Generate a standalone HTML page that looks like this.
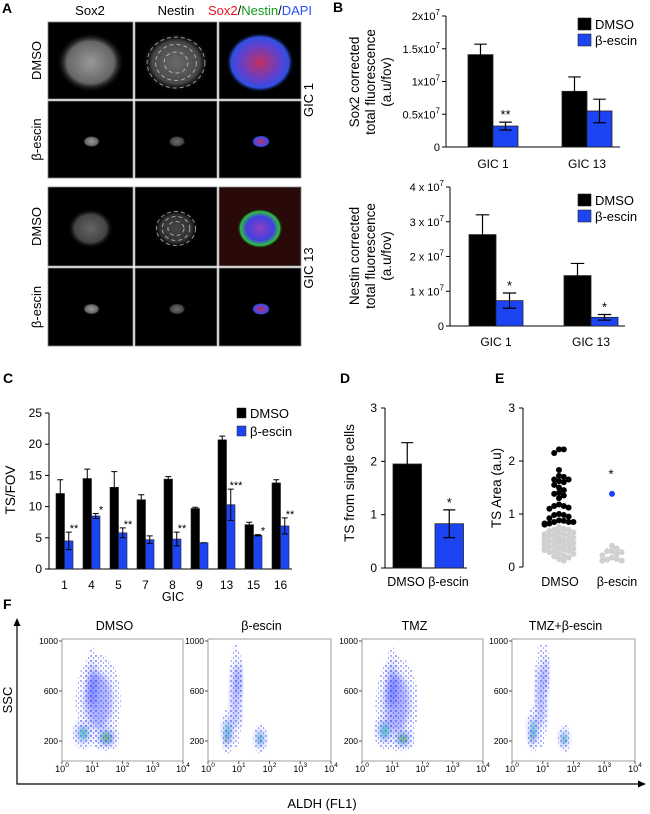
<!DOCTYPE html>
<html><head><meta charset="utf-8"><style>
html,body{margin:0;padding:0;background:#fff;}
svg{display:block;font-family:"Liberation Sans",Arial,sans-serif;}
</style></head><body>
<svg id="fig" width="650" height="814" viewBox="0 0 650 814" xmlns="http://www.w3.org/2000/svg">
<defs>
<filter id="blur2" x="-50%" y="-50%" width="200%" height="200%"><feGaussianBlur stdDeviation="2"/></filter>
<filter id="blur4" x="-50%" y="-50%" width="200%" height="200%"><feGaussianBlur stdDeviation="3.5"/></filter>
<pattern id="dots" width="5" height="5" patternUnits="userSpaceOnUse"><circle cx="1" cy="1" r="0.7" fill="#2030ff"/><circle cx="3.5" cy="3" r="0.6" fill="#4050ff"/></pattern>
<radialGradient id="gGray"><stop offset="0" stop-color="#999"/><stop offset="0.7" stop-color="#666"/><stop offset="1" stop-color="#000" stop-opacity="0"/></radialGradient>
<radialGradient id="gGrayDim"><stop offset="0" stop-color="#666"/><stop offset="0.7" stop-color="#444"/><stop offset="1" stop-color="#000" stop-opacity="0"/></radialGradient>
<radialGradient id="gMerge"><stop offset="0" stop-color="#c03060"/><stop offset="0.6" stop-color="#6040d0"/><stop offset="0.85" stop-color="#3050e0"/><stop offset="1" stop-color="#000" stop-opacity="0"/></radialGradient>
<radialGradient id="gMerge2"><stop offset="0" stop-color="#9040c0"/><stop offset="0.6" stop-color="#4040e0"/><stop offset="0.85" stop-color="#30c040"/><stop offset="1" stop-color="#000" stop-opacity="0"/></radialGradient>
</defs>
</svg>
<script>
// ---------- DATA ----------
const bTopCats = ['GIC 1', 'GIC 13'];
const bTopDmso = [1.41, 0.85];
const bTopDmsoErr = [0.16, 0.22];
const bTopEsc = [0.32, 0.55];
const bTopEscErr = [0.06, 0.18];
const bTopStars = ['**', ''];
const bTopTicks = [0, 0.5, 1, 1.5, 2];
const bTopTickLabels = ['0', '0.5x10', '1x10', '1.5x10', '2x10'];

const bBotCats = ['GIC 1', 'GIC 13'];
const bBotDmso = [2.63, 1.45];
const bBotDmsoErr = [0.57, 0.35];
const bBotEsc = [0.73, 0.25];
const bBotEscErr = [0.22, 0.08];
const bBotStars = ['*', '*'];
const bBotTicks = [0, 1, 2, 3, 4];
const bBotTickLabels = ['0', '1 x 10', '2 x 10', '3 x 10', '4 x 10'];

const cCats = ['1', '4', '5', '7', '8', '9', '13', '15', '16'];
const cDmso = [12.1, 14.5, 13.1, 11.1, 14.4, 9.7, 20.7, 7.1, 13.8];
const cDmsoErr = [2.2, 1.5, 2.5, 0.8, 0.4, 0.2, 0.6, 0.4, 0.5];
const cEsc = [4.5, 8.5, 5.8, 4.7, 4.8, 4.2, 10.3, 5.4, 6.9];
const cEscErr = [1.4, 0.4, 0.8, 0.6, 1.1, 0.0, 2.5, 0.1, 1.3];
const cStars = ['**', '*', '**', '', '**', '', '***', '*', '**'];
const cTicks = [0, 5, 10, 15, 20, 25];

const dCats = ['DMSO', 'β-escin'];
const dVals = [1.95, 0.83];
const dErr = [0.40, 0.26];
const dTicks = [0, 1, 2, 3];

const eTicks = [0, 1, 2, 3];
const eDmsoHigh = [2.22, 2.15, 2.22, 1.83, 1.65, 1.70, 1.65, 1.72, 1.62, 1.55, 1.60, 1.50, 1.45, 1.35, 1.38, 1.40, 1.30, 1.15, 1.18, 1.12, 1.10, 1.15, 1.00, 0.95, 0.98, 0.92, 0.98, 0.88, 0.85, 0.87, 0.85, 0.82, 0.85, 0.80, 0.82];
const eDmsoLow = [0.75, 0.72, 0.70, 0.70, 0.68, 0.65, 0.65, 0.62, 0.60, 0.60, 0.58, 0.55, 0.55, 0.52, 0.50, 0.50, 0.48, 0.46, 0.45, 0.45, 0.43, 0.42, 0.40, 0.40, 0.38, 0.36, 0.35, 0.33, 0.32, 0.30, 0.30, 0.28, 0.26, 0.25, 0.22, 0.20, 0.18, 0.15, 0.12, 0.55, 0.62, 0.48, 0.35];
const eEscLow = [0.40, 0.35, 0.30, 0.30, 0.28, 0.25, 0.22, 0.18, 0.14, 0.12, 0.12, 0.15];
const eEscHigh = [1.38];

// flow clusters: [log10 ALDH, SSC, rx (decades), ry (SSC), level]
const fTitles = ['DMSO', 'β-escin', 'TMZ', 'TMZ+β-escin'];
const fClusters = [
  [[1.2, 520, 0.75, 380, 1], [1.0, 650, 0.22, 300, 1], [0.7, 260, 0.35, 130, 2], [1.45, 230, 0.45, 110, 3], [1.5, 215, 0.2, 55, 4]],
  [[0.9, 550, 0.22, 420, 1], [0.65, 280, 0.22, 180, 2], [1.0, 700, 0.12, 220, 1], [0.6, 210, 0.12, 80, 4], [1.7, 220, 0.22, 120, 2], [1.7, 200, 0.08, 40, 3]],
  [[1.15, 500, 0.7, 380, 1], [1.0, 650, 0.25, 300, 1], [0.75, 280, 0.35, 150, 2], [1.35, 220, 0.4, 100, 3], [1.35, 210, 0.18, 45, 4]],
  [[0.95, 560, 0.22, 420, 1], [0.7, 290, 0.22, 180, 2], [1.1, 750, 0.12, 220, 1], [0.65, 220, 0.12, 80, 4], [1.7, 220, 0.2, 110, 2], [1.7, 200, 0.08, 40, 3]]
];
const fYTicks = [200, 600, 1000];
const fXTicks = [0, 1, 2, 3, 4];

// ---------- HELPERS ----------
const NS = 'http://www.w3.org/2000/svg';
const svg = document.getElementById('fig');
function mk(tag, attrs, parent) {
  const e = document.createElementNS(NS, tag);
  for (const k in attrs) e.setAttribute(k, attrs[k]);
  (parent || svg).appendChild(e);
  return e;
}
function txt(s, x, y, size, anchor, parent, extra) {
  const t = mk('text', Object.assign({x: x, y: y, 'font-size': size, 'text-anchor': anchor || 'middle', fill: '#000'}, extra || {}), parent);
  t.textContent = s;
  return t;
}
function sup(t, base, exp, expSize) {
  t.textContent = '';
  const a = mk('tspan', {}, t); a.textContent = base;
  const b = mk('tspan', {'font-size': expSize, dy: -5}, t); b.textContent = exp;
}
const BLUE = '#1d44f2';

// ---------- PANEL A ----------
const gA = mk('g', {});


let t = txt('A', 2, 13, 14, 'start', gA, {'font-weight': 'bold'});


const colX = [[48, 133], [135, 217], [219, 301]];
const rowY = [[22, 99], [101, 178], [187, 266], [268, 346]];
t = txt('Sox2', 90, 15, 13, 'middle', gA);


t = txt('Nestin', 176, 15, 13, 'middle', gA);


t = mk('text', {x: 260, y: 15, 'font-size': 13, 'text-anchor': 'middle'}, gA);


[['Sox2', '#e8141c'], ['/', '#000'], ['Nestin', '#139a1c'], ['/', '#000'], ['DAPI', '#2b4cff']].forEach(p => { const s = mk('tspan', {fill: p[1]}, t); s.textContent = p[0]; });
const rowLab = ['DMSO', 'β-escin', 'DMSO', 'β-escin'];
rowY.forEach((r, ri) => {
  const cy = (r[0] + r[1]) / 2;
  const rl = txt(rowLab[ri], 41, cy, 13, 'middle', gA, {transform: 'rotate(-90 41 ' + cy + ')'});
  
  
  colX.forEach((c, ci) => {
    const w = c[1] - c[0], h = r[1] - r[0];
    const bg = (ri === 2 && ci === 2) ? '#2a0909' : '#000';
    const rect = mk('rect', {x: c[0], y: r[0], width: w, height: h, fill: bg, stroke: '#888', 'stroke-width': 0.8}, gA);
    
    
    const cx = c[0] + w / 2, cyy = r[0] + h / 2;
    let rx, ry, fill;
    if (ri === 0) { rx = 34; ry = 30; } else if (ri === 2) { rx = 23; ry = 20; } else { rx = 9; ry = 6; }
    if (ci === 2) fill = ri === 2 ? 'url(#gMerge2)' : 'url(#gMerge)';
    else fill = ri === 2 ? 'url(#gGrayDim)' : 'url(#gGray)';
    const b = mk('ellipse', {cx: cx + (ri % 2 ? 1 : 0), cy: cyy + 2, rx: rx, ry: ry, fill: fill, opacity: ci === 1 ? 0.7 : 1}, gA);
    
    
    if (ci === 1 && ri % 2 === 0) {
      for (let k = 0; k < 3; k++) {
        const ring = mk('ellipse', {cx: cx, cy: cyy + 2, rx: rx * (0.35 + k * 0.25), ry: ry * (0.35 + k * 0.25), fill: 'none', stroke: '#eee', 'stroke-width': 1, 'stroke-dasharray': '4 3', opacity: 0.6}, gA);
        
        
      }
    }
  });
});
t = txt('GIC 1', 313, 100, 13, 'middle', gA, {transform: 'rotate(-90 313 100)'});


t = txt('GIC 13', 313, 268, 13, 'middle', gA, {transform: 'rotate(-90 313 268)'});



// ---------- generic bar chart for B ----------
function barChart(o) {
  const g = mk('g', {});
  
  
  const y = v => o.y0 - (v / o.vmax) * (o.y0 - o.y1);
  let l = mk('line', {x1: o.ax, y1: o.y1, x2: o.ax, y2: o.y0, stroke: '#000', 'stroke-width': 1}, g);
  
  
  l = mk('line', {x1: o.ax, y1: o.y0, x2: o.axEnd, y2: o.y0, stroke: '#000', 'stroke-width': 1}, g);
  
  
  o.ticks.forEach((tv, i) => {
    const tk = mk('line', {x1: o.ax - 4, y1: y(tv), x2: o.ax, y2: y(tv), stroke: '#000'}, g);
    
    
    const tl = txt(o.tickLabels[i], o.ax - 6, y(tv) + 4, 11, 'end', g);
    
    
    if (i > 0) sup(tl, o.tickLabels[i], '7', 8);
  });
  o.cats.forEach((c, i) => {
    const cx = o.centers[i];
    const vals = [o.dmso[i], o.esc[i]], errs = [o.dmsoErr[i], o.escErr[i]];
    [0, 1].forEach(s => {
      const x0 = s === 0 ? cx - o.bw : cx;
      const r = mk('rect', {x: x0, y: y(vals[s]), width: o.bw, height: o.y0 - y(vals[s]), fill: s ? BLUE : '#000', stroke: '#222', 'stroke-width': 0.8}, g);
      
      
      const ex = x0 + o.bw / 2;
      const e = mk('path', {d: 'M' + ex + ' ' + y(vals[s] - errs[s]) + 'V' + y(vals[s] + errs[s]) + 'M' + (ex - o.bw / 4) + ' ' + y(vals[s] + errs[s]) + 'h' + (o.bw / 2) + 'M' + (ex - o.bw / 4) + ' ' + y(vals[s] - errs[s]) + 'h' + (o.bw / 2), stroke: '#000', 'stroke-width': 1.2, fill: 'none'}, g);
      
      
    });
    if (o.stars[i]) {
      const st = txt(o.stars[i], cx + o.bw / 2, y(o.esc[i] + o.escErr[i]) - 3, 13, 'middle', g);
      
      
    }
    const cl = txt(c, cx, o.catY, 12, 'middle', g);
    
    
  });
  o.title.forEach((line, i) => {
    const tx = o.titleX[i];
    const tt = txt(line, tx, o.titleY, 13.5, 'middle', g, {transform: 'rotate(-90 ' + tx + ' ' + o.titleY + ')'});
    
    
  });
  [['DMSO', '#000'], ['β-escin', BLUE]].forEach((p, i) => {
    const ly = o.legY + i * 16;
    const sq = mk('rect', {x: o.legX, y: ly - 6, width: 13, height: 12, fill: p[1], stroke: '#222', 'stroke-width': 0.6}, g);
    
    
    const lt = txt(p[0], o.legX + 17, ly + 5, 13, 'start', g);
    
    
  });
  return g;
}
t = txt('B', 333, 12, 14, 'start', svg, {'font-weight': 'bold'});


barChart({name: 'sox2-bar-chart', ax: 446, axEnd: 620, y0: 147, y1: 16, vmax: 2, ticks: bTopTicks, tickLabels: bTopTickLabels,
  cats: bTopCats, centers: [493, 587], bw: 25, dmso: bTopDmso, dmsoErr: bTopDmsoErr, esc: bTopEsc, escErr: bTopEscErr, stars: bTopStars,
  catY: 168, title: ['Sox2 corrected', 'total fluorescence', '(a.u/fov)'], titleX: [359, 375, 391], titleY: 82, legX: 578, legY: 24});
barChart({name: 'nestin-bar-chart', ax: 450, axEnd: 625, y0: 326, y1: 187, vmax: 4, ticks: bBotTicks, tickLabels: bBotTickLabels,
  cats: bBotCats, centers: [496, 591], bw: 27, dmso: bBotDmso, dmsoErr: bBotDmsoErr, esc: bBotEsc, escErr: bBotEscErr, stars: bBotStars,
  catY: 346, title: ['Nestin corrected', 'total fluorescence', '(a.u/fov)'], titleX: [359, 375, 391], titleY: 256, legX: 578, legY: 200});

// ---------- PANEL C ----------
(function () {
  const g = mk('g', {});
  
  
  let lb = txt('C', 3, 383, 14, 'start', g, {'font-weight': 'bold'});
  
  
  const ax = 49, y0 = 569, y1 = 413, vmax = 25;
  const y = v => y0 - v / vmax * (y0 - y1);
  const xc = i => ax + 2 + (i + 0.5) * 27;
  const bw = 8.5;
  let l = mk('path', {d: 'M' + ax + ' ' + y1 + 'V' + y0 + 'H292', stroke: '#000', fill: 'none'}, g);
  
  
  cTicks.forEach(tv => {
    const tk = mk('line', {x1: ax - 4, y1: y(tv), x2: ax, y2: y(tv), stroke: '#000'}, g);
    
    
    const tl = txt(String(tv), ax - 7, y(tv) + 4, 12, 'end', g);
    
    
  });
  cCats.forEach((c, i) => {
    const cx = xc(i);
    [[cDmso[i], cDmsoErr[i], '#000', cx - bw], [cEsc[i], cEscErr[i], BLUE, cx]].forEach((s, si) => {
      const r = mk('rect', {x: s[3], y: y(s[0]), width: bw, height: y0 - y(s[0]), fill: s[2], stroke: '#222', 'stroke-width': 0.6}, g);
      
      
      const ex = s[3] + bw / 2;
      const e = mk('path', {d: 'M' + ex + ' ' + y(s[0] - s[1]) + 'V' + y(s[0] + s[1]) + 'M' + (ex - 3) + ' ' + y(s[0] + s[1]) + 'h6M' + (ex - 3) + ' ' + y(s[0] - s[1]) + 'h6', stroke: '#000', fill: 'none', 'stroke-width': 1}, g);
      
      
    });
    if (cStars[i]) {
      const st = txt(cStars[i], cx + bw + 1, y(cEsc[i] + cEscErr[i]) + 0, 11, 'middle', g);
      
      
    }
    const cl = txt(c, cx, 589, 12, 'middle', g);
    
    
  });
  let tt = txt('GIC', 173, 601, 12.5, 'middle', g);
  
  
  tt = txt('TS/FOV', 15, 490, 13.5, 'middle', g, {transform: 'rotate(-90 15 490)'});
  
  
  [['DMSO', '#000'], ['β-escin', BLUE]].forEach((p, i) => {
    const ly = 413 + i * 18;
    const sq = mk('rect', {x: 237, y: ly - 5, width: 9, height: 10, fill: p[1], stroke: '#222', 'stroke-width': 0.5}, g);
    
    
    const lt = txt(p[0], 250, ly + 5, 13, 'start', g);
    
    
  });
})();

// ---------- PANEL D ----------
(function () {
  const g = mk('g', {});
  
  
  let lb = txt('D', 340, 383, 14, 'start', g, {'font-weight': 'bold'});
  
  
  const ax = 385, y0 = 568, y1 = 408, vmax = 3;
  const y = v => y0 - v / vmax * (y0 - y1);
  let l = mk('path', {d: 'M' + ax + ' ' + y1 + 'V' + y0 + 'H467', stroke: '#000', fill: 'none'}, g);
  
  
  dTicks.forEach(tv => {
    const tk = mk('line', {x1: ax - 4, y1: y(tv), x2: ax, y2: y(tv), stroke: '#000'}, g);
    
    
    const tl = txt(String(tv), ax - 8, y(tv) + 4, 12, 'end', g);
    
    
  });
  const bx = [393, 435], bw = 28.5;
  dCats.forEach((c, i) => {
    const r = mk('rect', {x: bx[i], y: y(dVals[i]), width: bw, height: y0 - y(dVals[i]), fill: i ? BLUE : '#000', stroke: '#222', 'stroke-width': 0.8}, g);
    
    
    const ex = bx[i] + bw / 2;
    const e = mk('path', {d: 'M' + ex + ' ' + y(dVals[i] - dErr[i]) + 'V' + y(dVals[i] + dErr[i]) + 'M' + (ex - 6) + ' ' + y(dVals[i] + dErr[i]) + 'h12M' + (ex - 6) + ' ' + y(dVals[i] - dErr[i]) + 'h12', stroke: '#000', fill: 'none', 'stroke-width': 1.2}, g);
    
    
  });
  let st = txt('*', bx[1] + bw / 2, y(dVals[1] + dErr[1]) - 3, 13, 'middle', g);
  
  
  let cl = txt('DMSO β-escin', 428, 586, 12.5, 'middle', g);
  
  
  let tt = txt('TS from single cells', 354, 483, 13.5, 'middle', g, {transform: 'rotate(-90 354 483)'});
  
  
})();

// ---------- PANEL E ----------
(function () {
  const g = mk('g', {});
  
  
  let lb = txt('E', 495, 383, 14, 'start', g, {'font-weight': 'bold'});
  
  
  const ax = 523, y0 = 567, y1 = 408, vmax = 3;
  const y = v => y0 - v / vmax * (y0 - y1);
  let l = mk('line', {x1: ax, y1: y1, x2: ax, y2: y0, stroke: '#000'}, g);
  
  
  eTicks.forEach(tv => {
    const tk = mk('line', {x1: ax - 4, y1: y(tv), x2: ax, y2: y(tv), stroke: '#000'}, g);
    
    
    const tl = txt(String(tv), ax - 8, y(tv) + 4, 12, 'end', g);
    
    
  });
  const R = 3;
  function swarm(groups, cx, maxHalf) {
    const placed = [];
    groups.forEach(gr => {
      gr.vals.slice().sort((a, b) => b - a).forEach(v => {
        const py = y(v);
        let px = cx;
        for (let k = 0; k < 40; k++) {
          const off = (k % 2 ? 1 : -1) * Math.ceil(k / 2) * 1.6 * R;
          if (Math.abs(off) > maxHalf) break;
          const tx = cx + off;
          px = tx;
          if (!placed.some(p => Math.hypot(p[0] - tx, p[1] - py) < 1.5 * R)) break;
        }
        placed.push([px, py]);
        const c = mk('circle', {cx: px, cy: py, r: R, fill: gr.color}, g);
        
        
      });
    });
  }
  swarm([{vals: eDmsoLow, color: '#d0d0d0', name: 'dmso-point-low'}, {vals: eDmsoHigh, color: '#000', name: 'dmso-point-high'}], 559, 17);
  swarm([{vals: eEscLow, color: '#d0d0d0', name: 'escin-point-low'}, {vals: eEscHigh, color: BLUE, name: 'escin-point-high'}], 612, 14);
  let st = txt('*', 611, y(1.75) + 4, 13, 'middle', g);
  
  
  let c1 = txt('DMSO', 560, 586, 12.5, 'middle', g);
  
  
  c1 = txt('β-escin', 617, 586, 12.5, 'middle', g);
  
  
  let tt = txt('TS Area (a.u)', 501, 488, 13.5, 'middle', g, {transform: 'rotate(-90 501 488)'});
  
  
})();

// ---------- PANEL F ----------
(function () {
  const g = mk('g', {});
  
  
  let lb = txt('F', 3, 609, 14, 'start', g, {'font-weight': 'bold'});
  
  
  let ax = mk('path', {d: 'M17 624V784H640', stroke: '#000', fill: 'none', 'stroke-width': 1.2}, g);
  
  
  ax = mk('path', {d: 'M17 618L13.5 626H20.5Z M646 784L638 780.5V787.5Z', fill: '#000'}, g);
  
  
  let tt = txt('SSC', 12, 700, 13, 'middle', g, {transform: 'rotate(-90 12 700)'});
  
  
  tt = txt('ALDH (FL1)', 322, 808, 13, 'middle', g);
  
  
  const boxes = [[62, 183], [208, 331], [362, 483], [512, 635]];
  const by0 = 761, by1 = 639;
  const cols = ['url(#dots)', '#1a2cff', '#20c8a0', '#e8e020', '#f02010'];
  const ops = [0.9, 0.35, 0.55, 0.6, 0.7];
  boxes.forEach((b, pi) => {
    const pg = mk('g', {}, g);
    
    
    const xs = v => b[0] + v / 4 * (b[1] - b[0]);
    const ys = s => 766 - s * 0.125;
    const clipId = 'clip' + pi;
    const cp = mk('clipPath', {id: clipId}, pg);
    mk('rect', {x: b[0], y: by1, width: b[1] - b[0], height: by0 - by1}, cp);
    const dg = mk('g', {'clip-path': 'url(#' + clipId + ')'}, pg);
    fClusters[pi].forEach(cl => {
      for (let lv = 0; lv <= cl[4]; lv++) {
        const f = lv === 0 ? 1 : Math.pow(0.6, lv);
        const attrs = {cx: xs(cl[0]), cy: ys(cl[1]), rx: cl[2] / 4 * (b[1] - b[0]) * f, ry: cl[3] * 0.125 * f,
          fill: cols[lv], opacity: ops[lv]};
        if (lv > 0) attrs.filter = 'url(#' + (lv < 2 ? 'blur4' : 'blur2') + ')';
        const e = mk('ellipse', attrs, dg);
        
        
      }
    });
    const fr = mk('rect', {x: b[0], y: by1, width: b[1] - b[0], height: by0 - by1, fill: 'none', stroke: '#888', 'stroke-width': 0.8}, pg);
    
    
    const ttl = txt(fTitles[pi], (b[0] + b[1]) / 2 - 8, 630, 12.5, 'middle', pg);
    
    
    fYTicks.forEach(s => {
      const tk = mk('line', {x1: b[0] - 3, y1: ys(s), x2: b[0], y2: ys(s), stroke: '#555'}, pg);
      
      
      const tl = txt(String(s), b[0] - 4, ys(s) + 3, 8.5, 'end', pg);
      
      
    });
    fXTicks.forEach(v => {
      const tk = mk('line', {x1: xs(v), y1: by0, x2: xs(v), y2: by0 + 3, stroke: '#555'}, pg);
      
      
      const tl = txt('', xs(v), 772, 9, 'middle', pg);
      
      
      sup(tl, '10', String(v), 6.5);
    });
  });
})();
</script>
</body></html>
